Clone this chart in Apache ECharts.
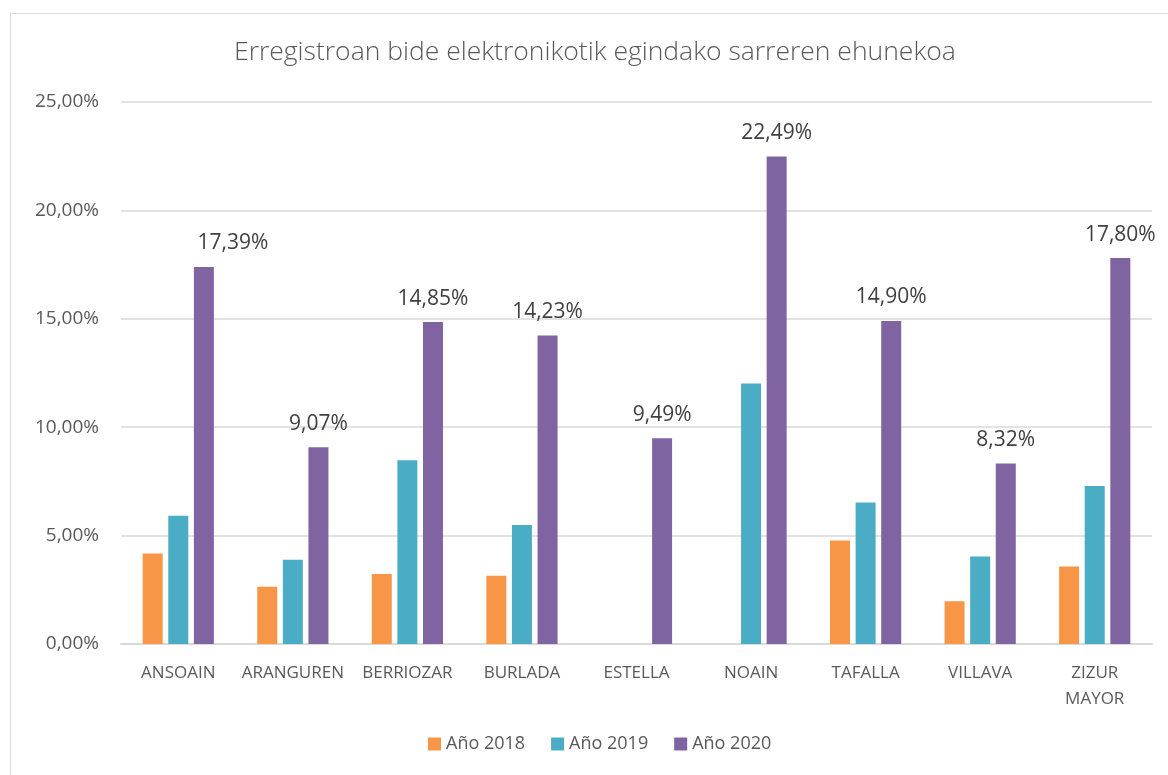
<!DOCTYPE html>
<html lang="eu">
<head>
    <meta charset="UTF-8">
    <title>Erregistroan bide elektronikotik egindako sarreren ehunekoa</title>
    <script src="https://cdn.jsdelivr.net/npm/echarts@6/dist/echarts.min.js"></script>
    <style>
        html, body { margin: 0; padding: 0; background: #fff; }
        #frame { position: absolute; left: 10px; top: 13px; width: 1170px; height: 780px; border: 1px solid #d9d9d9; box-sizing: border-box; }
        #chart { position: absolute; left: 0; top: 0; width: 1168px; height: 775px; }
    </style>
</head>
<body>
    <div id="frame"></div>
    <div id="chart"></div>
    <script>
        const categories = ['ANSOAIN', 'ARANGUREN', 'BERRIOZAR', 'BURLADA', 'ESTELLA', 'NOAIN', 'TAFALLA', 'VILLAVA', 'ZIZUR MAYOR'];
        const seriesNames = ['Año 2018', 'Año 2019', 'Año 2020'];
        const year2018 = [4.18, 2.64, 3.23, 3.15, null, null, 4.77, 1.97, 3.57];
        const year2019 = [5.92, 3.89, 8.48, 5.49, null, 12.01, 6.53, 4.04, 7.29];
        const year2020 = [17.39, 9.07, 14.85, 14.23, 9.49, 22.49, 14.90, 8.32, 17.80];
        const colors = ['#F79646', '#4BACC6', '#8064A2'];

        const fmt = v => v.toFixed(2).replace('.', ',') + '%';
        const font = 'Open Sans';
        const textColor = '#595959';

        const chart = echarts.init(document.getElementById('chart'));

        function bar(name, data, color, withLabel) {
            return {
                name: name,
                type: 'bar',
                data: data,
                barWidth: 20,
                barGap: '28%',
                itemStyle: { color: color },
                label: {
                    show: withLabel,
                    position: 'top',
                    distance: 13,
                    fontFamily: font,
                    fontSize: 21,
                    color: '#404040',
                    formatter: p => fmt(p.value)
                }
            };
        }

        // in the original the first 2020 label sits a bit to the right
        const year2020Items = year2020.map((v, i) => i === 0 ? { value: v, label: { offset: [29, 0] } } : v);

        chart.setOption({
            animation: false,
            color: colors,
            title: {
                text: 'Erregistroan bide elektronikotik egindako sarreren ehunekoa',
                left: 234,
                top: 39,
                padding: 0,
                textStyle: { fontFamily: font, fontSize: 26.5, fontWeight: 300, color: textColor }
            },
            legend: {
                bottom: 17,
                left: 423,
                itemWidth: 13,
                itemHeight: 13,
                itemGap: 26,
                icon: 'rect',
                textStyle: { fontFamily: font, fontSize: 18, color: textColor }
            },
            grid: { left: 121, right: 16, top: 102, bottom: 131 },
            xAxis: {
                type: 'category',
                data: categories,
                axisLine: { lineStyle: { color: '#d9d9d9', width: 2 } },
                axisTick: { show: false },
                axisLabel: {
                    interval: 0,
                    margin: 16,
                    fontFamily: font,
                    fontSize: 17,
                    color: textColor,
                    lineHeight: 26,
                    formatter: v => v.replace(' ', '\n')
                }
            },
            yAxis: {
                type: 'value',
                min: 0,
                max: 25,
                interval: 5,
                axisLine: { show: false },
                axisTick: { show: false },
                splitLine: { lineStyle: { color: '#d9d9d9', width: 1.5 } },
                axisLabel: {
                    margin: 22,
                    fontFamily: font,
                    fontSize: 19,
                    color: textColor,
                    formatter: v => fmt(v)
                }
            },
            series: [
                bar(seriesNames[0], year2018, colors[0], false),
                bar(seriesNames[1], year2019, colors[1], false),
                bar(seriesNames[2], year2020Items, colors[2], true)
            ]
        });
    </script>
</body>
</html>
